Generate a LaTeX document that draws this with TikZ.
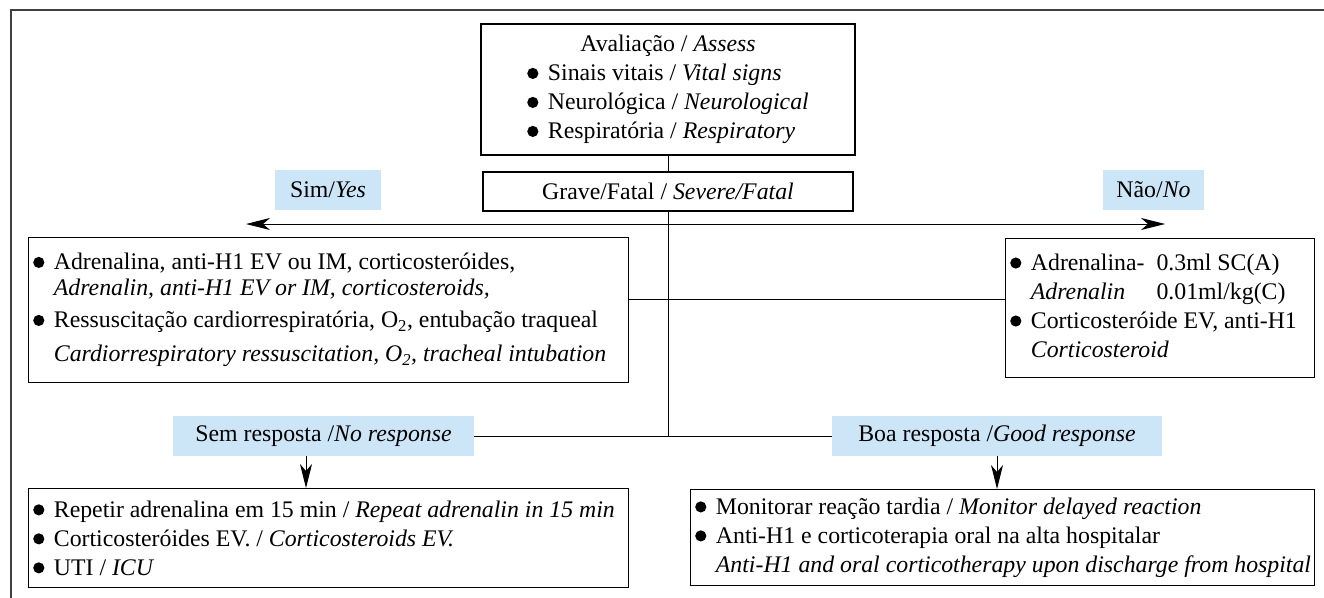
\documentclass[tikz,border=0pt]{standalone}
\usepackage{fontspec}
\setmainfont{Liberation Serif}
\usetikzlibrary{arrows.meta}
\definecolor{respblue}{RGB}{204,230,247}
\newcommand{\blt}{\tikz[baseline=0pt]\fill (0,0.31em) circle (0.235em);\hspace{0.4em}}
\newcommand{\nobl}{\phantom{\blt}}

\begin{document}
\begin{tikzpicture}[x=1pt,y=-1pt,font=\fontsize{23.8}{29}\selectfont,
	box/.style={draw, line width=1.2pt, inner sep=0pt},
	boxtext/.style={anchor=west, align=left, inner sep=0pt},
	resp/.style={fill=respblue, minimum height=40, inner sep=0pt},
	arr/.style={-{Stealth[length=24pt,width=12pt,inset=7pt]}, line width=1pt}]
		\useasboundingbox (0,0) rectangle (1324,597);
		%draw outer frame
		\draw[line width=2pt, black!75] (11,600) -- (11,10) -- (1330,10);

		%assessment
		\node[box, minimum width=374, minimum height=131] (assess) at (668,89.5) {\begin{tabular}{@{}l@{}}
			\multicolumn{1}{@{}c@{}}{Avaliação / \textit{Assess}}\\
			\blt Sinais vitais / \textit{Vital signs}\\
			\blt Neurológica / \textit{Neurological}\\
			\blt Respiratória / \textit{Respiratory}
			\end{tabular}};
		\node[box, minimum width=370, minimum height=39] (grave) at (668,191.5) {Grave/Fatal / \textit{Severe/Fatal}};

		%yes & no
		\node[resp, minimum width=106] (yes) at (328,190) {Sim/\textit{Yes}};
		\node[resp, minimum width=101] (no) at (1153.5,190) {Não/\textit{No}};
		\coordinate (yestip) at (246,224);
		\coordinate (notip) at (1165,224);
		\coordinate (treatrow) at (668,299);
		\coordinate (resprow) at (668,436);

		%treatments
		\node[box, anchor=north west, minimum width=600, minimum height=145] (severe) at (28,237) {};
		\node[boxtext] (severetxt) at ([xshift=5]severe.west) {\blt Adrenalina, anti-H1 EV ou IM, corticosteróides,\\[-3pt]
			\nobl\textit{Adrenalin, anti-H1 EV or IM, corticosteroids,}\\[3pt]
			\blt Ressuscitação cardiorrespiratória, O\textsubscript{2}, entubação traqueal\\[5pt]
			\nobl\textit{Cardiorrespiratory ressuscitation, O\textsubscript{2}, tracheal intubation}};
		\node[box, anchor=north west, minimum width=309, minimum height=139] (mild) at (1005,238) {};
		\node[boxtext] (mildtxt) at ([xshift=5]mild.west) {\begin{tabular}{@{}l@{\hspace{12pt}}l@{}}
			\blt Adrenalina- & 0.3ml SC(A)\\
			\nobl\textit{Adrenalin} & 0.01ml/kg(C)\\
			\multicolumn{2}{@{}l@{}}{\blt Corticosteróide EV, anti-H1}\\
			\multicolumn{2}{@{}l@{}}{\nobl\textit{Corticosteroid}}
			\end{tabular}};

		%responses
		\node[resp, minimum width=301] (noresp) at (323.5,436) {Sem resposta /\textit{No response}};
		\node[resp, minimum width=330] (goodresp) at (997,436) {Boa resposta /\textit{Good response}};
		\coordinate (noarrow) at (306,456);

		%follow up
		\node[box, anchor=north west, minimum width=600, minimum height=99] (again) at (28,488) {};
		\node[boxtext] (againtxt) at ([xshift=5]again.west) {\blt Repetir adrenalina em 15 min / \textit{Repeat adrenalin in 15 min}\\
			\blt Corticosteróides EV. / \textit{Corticosteroids EV.}\\
			\blt UTI / \textit{ICU}};
		\node[box, anchor=north west, minimum width=624, minimum height=96] (discharge) at (690,489) {};
		\node[boxtext] (dischargetxt) at ([xshift=5]discharge.west) {\blt Monitorar reação tardia / \textit{Monitor delayed reaction}\\
			\blt Anti-H1 e corticoterapia oral na alta hospitalar\\
			\nobl\textit{Anti-H1 and oral corticotherapy upon discharge from hospital}};

		%connectors
		\draw[line width=1pt] (assess.south) -- (grave.north);
		\draw[line width=1pt] (grave.south) -- (resprow);
		\draw[{Stealth[length=24pt,width=12pt,inset=7pt]}-{Stealth[length=24pt,width=12pt,inset=7pt]}, line width=1pt] (yestip) -- (notip);
		\draw[line width=1pt] (severe.east |- treatrow) -- (mild.west |- treatrow);
		\draw[line width=1pt] (noresp.east) -- (goodresp.west);
		\draw[arr] (noarrow) -- (noarrow |- again.north);
		\draw[arr] (goodresp.south) -- (goodresp.south |- discharge.north);
\end{tikzpicture}
\end{document}
